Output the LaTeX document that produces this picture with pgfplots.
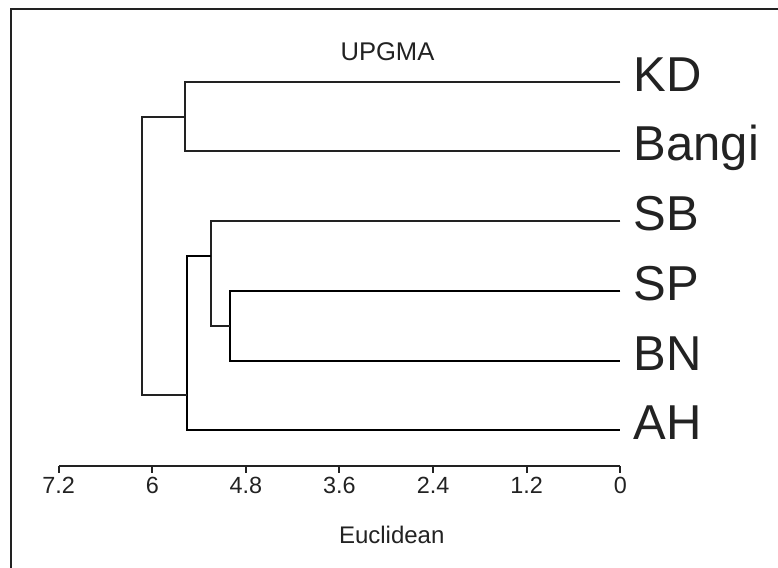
\documentclass[border=0pt]{standalone}
\usepackage{pgfplots}
\pgfplotsset{compat=1.18}
\usepackage{fontspec}
\setmainfont{Liberation Sans}
\definecolor{ink}{HTML}{222222}

\begin{document}
\begin{tikzpicture}[font=\fontsize{12pt}{14pt}\selectfont]
  \begin{axis}[
      name=ax,
      scale only axis,
      width=280.8pt,
      height=228.35pt,
      x dir=reverse,
      xmin=0, xmax=7.2,
      ymin=-5.509, ymax=1.043,
      axis x line*=bottom,
      axis y line=none,
      x axis line style={-, draw=ink, line width=1pt},
      xtick={0,1.2,2.4,3.6,4.8,6,7.2},
      xticklabels={0,1.2,2.4,3.6,4.8,6,7.2},
      tick align=outside,
      major tick length=3.5pt,
      xtick style={draw=ink, line width=1pt},
      xticklabel style={text=ink, font=\fontsize{11.7pt}{14pt}\selectfont, yshift=1.5pt},
      clip=false,
      cycle list={{draw=ink, mark=none}},
      every axis plot/.append style={line width=1pt},
    ]
    % clusters (distance, -leaf index)
    \addplot coordinates {(0,0) (5.577,0) (5.577,-1) (0,-1)};            % KD + Bangi
    \addplot coordinates {(0,-3) (5.004,-3) (5.004,-4) (0,-4)};          % SP + BN
    \addplot coordinates {(0,-2) (5.244,-2) (5.244,-3.5) (5.004,-3.5)};  % SB + (SP,BN)
    \addplot coordinates {(5.244,-2.5) (5.559,-2.5) (5.559,-5) (0,-5)};  % + AH
    \addplot coordinates {(5.577,-0.5) (6.13,-0.5) (6.13,-4.5) (5.559,-4.5)}; % root

    \foreach \lab [count=\i from 0] in {KD,Bangi,SB,SP,BN,AH} {
      \edef\temp{\noexpand\node[anchor=base west, inner sep=0pt, text=ink,
        font=\noexpand\fontsize{24.5pt}{28pt}\noexpand\selectfont,
        xshift=6.5pt, yshift=-4.8pt] at (axis cs:0,-\i) {\lab};}
      \temp
    }
    \node[text=ink, font=\fontsize{12.8pt}{15pt}\selectfont] at (axis cs:2.985,0.433) {UPGMA};
    \node[text=ink] at (axis cs:2.93,-5.509) [yshift=-34.65pt] {Euclidean};
  \end{axis}
  % frame (left and top edges)
  \draw[draw=ink, line width=0.9pt]
    ([shift={(-23.85pt,-279.5pt)}]ax.north west) -- ++(0,279.5pt) -- ++(383.5pt,0);
  \pgfresetboundingbox
  \useasboundingbox ([shift={(-29.35pt,-51.15pt)}]ax.south west) rectangle ++(389pt,284pt);
\end{tikzpicture}
\end{document}
